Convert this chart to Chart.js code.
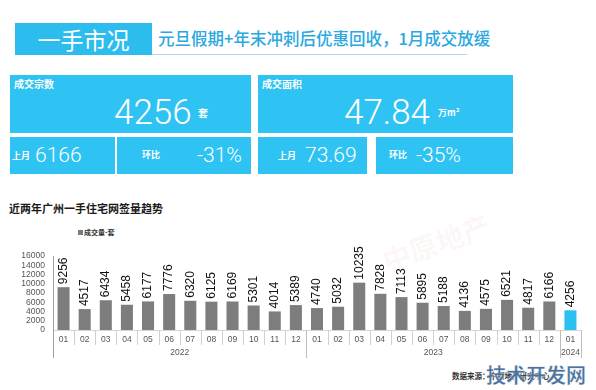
<!DOCTYPE html>
<html><head><meta charset="utf-8">
<script src="https://cdn.jsdelivr.net/npm/chart.js@4/dist/chart.umd.min.js"></script>
<style>
body{margin:0;width:596px;height:390px;overflow:hidden;background:#fff;font-family:"Noto Sans CJK SC","Noto Sans",sans-serif;position:relative}
.a{position:absolute;white-space:nowrap}
.box{position:absolute;background:#2ec3f3}
.w{color:#fff}
.num{font-family:Roboto,"Liberation Sans",Arial,sans-serif;font-weight:300;color:#fff}
.sm{font-size:10px;font-weight:700;color:#fff;line-height:10px}
</style></head><body>
<!-- header -->
<div class="box" style="left:15px;top:23px;width:137px;height:32px;background:#2cbdee"></div>
<div class="a w" style="left:15px;top:23px;width:137px;height:32px;line-height:32px;text-align:center;font-size:23px;font-weight:400">一手市况</div>
<div class="a" style="left:158px;top:28px;line-height:20px;font-size:16.5px;font-weight:500;color:#2aa8e0">元旦假期+年末冲刺后优惠回收，1月成交放缓</div>
<div class="a" style="left:152px;top:54px;width:315px;height:1px;background:#a6dcf3"></div>

<!-- KPI boxes -->
<div class="box" style="left:10px;top:75px;width:241px;height:58px"></div>
<div class="box" style="left:258px;top:75px;width:255px;height:58px"></div>
<div class="box" style="left:10px;top:137px;width:105px;height:37px"></div>
<div class="box" style="left:117px;top:137px;width:134px;height:37px"></div>
<div class="box" style="left:258px;top:137px;width:109px;height:37px"></div>
<div class="box" style="left:376px;top:137px;width:137px;height:37px"></div>

<div class="a sm" style="left:14px;top:79px">成交宗数</div>
<div class="a num" style="left:114px;top:95px;font-size:35px;line-height:35px">4256</div>
<div class="a sm" style="left:198px;top:108px">套</div>
<div class="a sm" style="left:262px;top:79px">成交面积</div>
<div class="a num" style="left:344px;top:95px;font-size:35px;line-height:35px">47.84</div>
<div class="a sm" style="left:438px;top:108px;font-size:9px">万m²</div>

<div class="a sm" style="left:12px;top:151px;font-size:9px">上月</div>
<div class="a num" style="left:35px;top:145px;font-size:21px;line-height:21px">6166</div>
<div class="a sm" style="left:142px;top:150px;font-size:9px">环比</div>
<div class="a num" style="left:197px;top:145px;font-size:21px;line-height:21px">-31%</div>
<div class="a sm" style="left:278px;top:151px;font-size:9px">上月</div>
<div class="a num" style="left:305px;top:145px;font-size:21px;line-height:21px">73.69</div>
<div class="a sm" style="left:389px;top:150px;font-size:9px">环比</div>
<div class="a num" style="left:416px;top:145px;font-size:21px;line-height:21px">-35%</div>

<!-- chart title & legend -->
<div class="a" style="left:9px;top:202px;font-size:11px;line-height:13px;font-weight:700;color:#1a1a1a">近两年广州一手住宅网签量趋势</div>
<div class="a" style="left:78px;top:230px;width:5px;height:5px;background:#7d7d7d"></div>
<div class="a" style="left:84px;top:228px;font-size:7px;line-height:9px;color:#333;font-weight:700">成交量-套</div>

<!-- faint watermark -->
<div class="a" style="left:380px;top:222px;font-size:28px;font-weight:700;color:rgba(215,120,120,0.07);transform:rotate(-20deg)">中原地产</div>

<!-- source + watermark -->
<div class="a" style="left:452px;top:371px;font-size:7.5px;line-height:10px;font-weight:700;color:#333">数据来源：中原地产研究中心</div>
<div class="a" style="left:486px;top:362px;font-size:20px;line-height:26px;font-weight:700;color:#4a729e;-webkit-text-stroke:0.3px #fff">技术开发网</div>

<canvas id="c" width="596" height="390" style="position:absolute;left:0;top:0"></canvas>
<script>
const months = ['01','02','03','04','05','06','07','08','09','10','11','12',
                '01','02','03','04','05','06','07','08','09','10','11','12','01'];
const years = ['2022','2023','2024'];
const yearMonthCounts = [12,12,1];
const values2022 = [9256,4517,6434,5458,6177,7776,6320,6125,6169,5301,4014,5389];
const values2023 = [4740,5032,10235,7828,7113,5895,5188,4136,4575,6521,4817,6166];
const values2024 = [4256];
const seriesName = '成交量-套';
const yMin = 0, yMax = 16000, yStep = 2000;

const values = values2022.concat(values2023, values2024);
const barColors = values.map((v,i)=> i===values.length-1 ? '#29c1f2' : '#7d7d7d');

const dataLabels = {
  id:'dataLabels',
  afterDatasetsDraw(chart){
    const ctx = chart.ctx;
    const meta = chart.getDatasetMeta(0);
    ctx.save();
    ctx.font = '12px "Liberation Sans", Arial, sans-serif';
    ctx.fillStyle = '#111';
    ctx.textAlign = 'left';
    ctx.textBaseline = 'middle';
    meta.data.forEach((bar,i)=>{
      ctx.save();
      ctx.translate(bar.x, bar.y - 3);
      ctx.rotate(-Math.PI/2);
      ctx.fillText(String(chart.data.datasets[0].data[i]), 0, 0);
      ctx.restore();
    });
    ctx.restore();
  }
};

const axisExtras = {
  id:'axisExtras',
  afterDraw(chart){
    const {ctx, chartArea:{left,right,top,bottom}, scales:{x}} = chart;
    const n = chart.data.labels.length;
    const half = (x.getPixelForValue(1) - x.getPixelForValue(0))/2;
    const edge = i => (i < n ? x.getPixelForValue(i) - half : x.getPixelForValue(n-1) + half);
    ctx.save();
    ctx.lineWidth = 1;
    ctx.strokeStyle = '#d6d6d6';
    ctx.beginPath(); ctx.moveTo(left, bottom+0.5); ctx.lineTo(right, bottom+0.5); ctx.stroke();
    ctx.strokeStyle = '#d0d0d0';
    for(let i=0;i<=n;i++){
      const px = Math.round(edge(i))+0.5;
      ctx.beginPath(); ctx.moveTo(px, bottom); ctx.lineTo(px, bottom+15); ctx.stroke();
    }
    let start = 0;
    ctx.font = '8.5px "Liberation Sans", Arial, sans-serif';
    ctx.fillStyle = '#555';
    ctx.textAlign = 'center';
    ctx.textBaseline = 'middle';
    yearMonthCounts.forEach((cnt,gi)=>{
      const end = start + cnt;
      const x0 = edge(start), x1 = edge(end);
      ctx.strokeStyle = '#bdbdbd';
      [x0,x1].forEach(px=>{
        const p = Math.round(px)+0.5;
        ctx.beginPath(); ctx.moveTo(p, bottom); ctx.lineTo(p, bottom+28); ctx.stroke();
      });
      ctx.fillText(years[gi], (x0+x1)/2, bottom+23);
      start = end;
    });
    ctx.strokeStyle = '#a0a0a0';
    const lx = Math.round(left)+0.5;
    ctx.beginPath(); ctx.moveTo(lx, top); ctx.lineTo(lx, bottom+28); ctx.stroke();
    ctx.restore();
  }
};

new Chart(document.getElementById('c'), {
  type:'bar',
  data:{
    labels: months,
    datasets:[{
      label: seriesName,
      data: values,
      backgroundColor: barColors,
      borderWidth: 0,
      barPercentage: 0.57,
      categoryPercentage: 1.0
    }]
  },
  options:{
    responsive:false,
    devicePixelRatio:1,
    animation:false,
    layout:{padding:{top:256,right:15,bottom:0,left:0}},
    plugins:{legend:{display:false},tooltip:{enabled:false}},
    scales:{
      x:{
        grid:{display:false,drawTicks:false},
        border:{display:false},
        ticks:{padding:5,color:'#555',font:{family:'"Liberation Sans", Arial, sans-serif',size:8.5},maxRotation:0,autoSkip:false},
        afterFit(s){ s.height = 60; }
      },
      y:{
        min:yMin,max:yMax,
        grid:{display:false,drawTicks:false},
        border:{display:false},
        ticks:{stepSize:yStep,padding:8,autoSkip:false,color:'#555',font:{family:'"Liberation Sans", Arial, sans-serif',size:8.5},
               callback:v=>String(v)},
        afterFit(s){ s.width = 53; }
      }
    }
  },
  plugins:[dataLabels, axisExtras]
});
</script>
</body></html>
